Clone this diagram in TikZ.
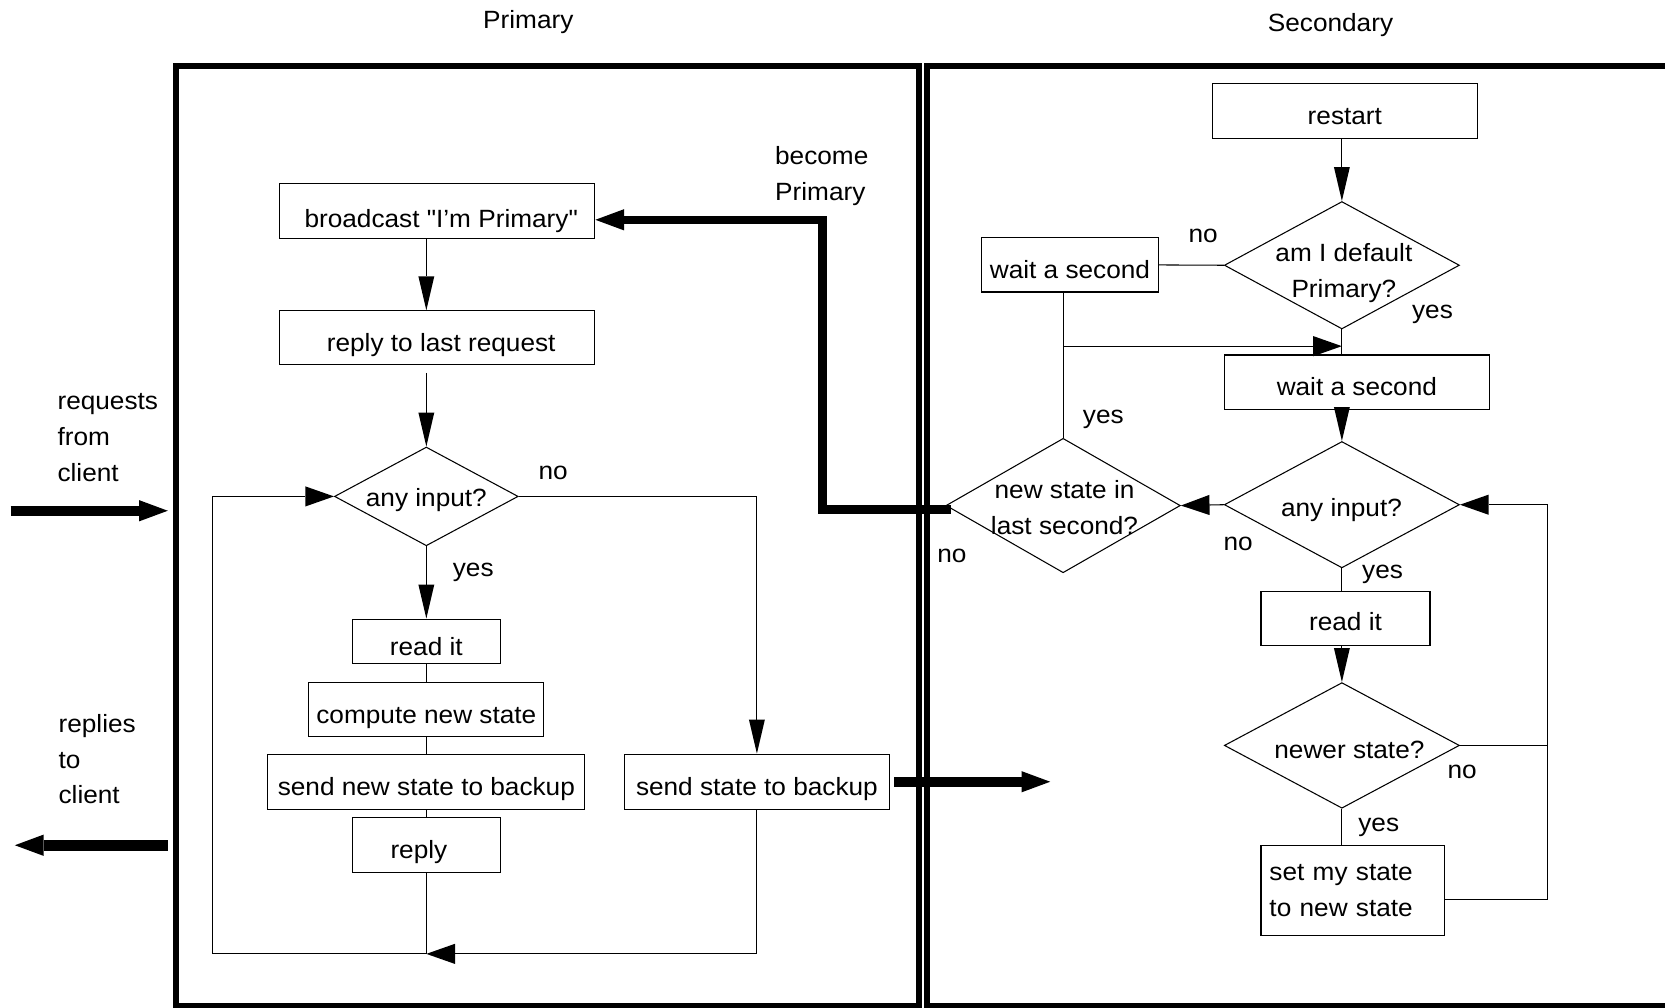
\documentclass[tikz,border=0pt]{standalone}
\usepackage{fontspec}
\setmainfont{Liberation Sans}[FakeStretch=1.05, Ligatures=TeXOff]
\usetikzlibrary{arrows.meta,shapes.geometric,calc}
\begin{document}
\begin{tikzpicture}[x=1pt,y=-1pt,
  every node/.style={font=\fontsize{23.5}{33.5}\selectfont, inner sep=0pt},
  line/.style={line width=1pt, black},
  box/.style={draw, line width=1pt, rectangle, inner sep=0pt},
  boxtxt/.style={box, text height=31pt, text depth=5pt},
  dia/.style={draw, line width=1pt, diamond, inner sep=0pt},
  lbl/.style={anchor=base},
  varrow/.style={line, -{Triangle[length=32pt,width=15pt,line width=0pt]}},
  harrow/.style={line, -{Triangle[length=27pt,width=19pt,line width=0pt]}},
  bigarrow/.style={line width=9pt, line join=miter, -{Triangle[length=27pt,width=20pt,line width=0pt]}},
  frame/.style={line width=5.6pt, line join=miter}
]
\useasboundingbox (0,0) rectangle (1568,949);
\clip (0,0) rectangle (1568,949);

% ---------- frames and titles ----------
\draw[frame] (165.7,62.2) rectangle (865.3,947.5);
\draw[frame] (872.6,62.2) rectangle (1620,947.5);
\node[lbl] (tprim) at (497.5,27) {Primary};
\node[lbl] (tsec) at (1253,29.5) {Secondary};

% ---------- client side (multi-line labels are anchored on their last line) ----------
\node[lbl, align=left, anchor=base west] (req) at (54,453) {requests\\from\\client};
\node[lbl, align=left, anchor=base west] (rep) at (55,757) {replies\\to\\client};
\coordinate (rq0) at (10,481);
\coordinate (rq1) at (158,481);
\draw[bigarrow] (rq0) -- (rq1);
\coordinate (rp0) at (158,796);
\coordinate (rp1) at (14,796);
\draw[bigarrow, line width=10pt] (rp0) -- (rp1);

% ---------- primary ----------
\node[boxtxt, text height=37pt, minimum width=297.4pt, minimum height=51.8pt] (bc) at (411.5,198.5) {\hspace*{8pt}broadcast "I’m Primary"};
\node[boxtxt, minimum width=297.4pt, minimum height=51pt] (rl) at (411.5,318.2) {\hspace*{8pt}reply to last request};
\node[dia, minimum width=173pt, minimum height=93pt] (q1) at (401.5,467.5) {};
\node[lbl] (q1t) at (401.5,477) {any input?};
\node[boxtxt, minimum width=139pt, minimum height=42pt] (ri) at (401.5,604) {read it};
\node[boxtxt, minimum width=221.5pt, minimum height=51pt] (cn) at (401.5,668.1) {compute new state};
\node[boxtxt, minimum width=298.4pt, minimum height=52pt] (sn) at (401.5,736.2) {send new state to backup};
\node[boxtxt, minimum width=139pt, minimum height=51.5pt] (rp) at (401.5,795.8) {reply\hspace*{14pt}};
\node[boxtxt, minimum width=249.5pt, minimum height=52pt] (ss) at (712.8,736.2) {send state to backup};

\draw[varrow] (bc.south -| q1.north) -- (rl.north -| q1.north);
\draw[varrow] ($(rl.south -| q1.north)+(0,7)$) -- (q1.north);
\draw[varrow] (q1.south) -- (ri.north);
\draw[line] (ri.south) -- (cn.north);
\draw[line] (cn.south) -- (sn.north);
\draw[line] (sn.south) -- (rp.north);
\draw[varrow] (q1.east) -| (ss.north);
\coordinate (pb) at (401.5,898.3);
\coordinate (pl) at (200.4,898.3);
\draw[line] (rp.south) -- (pb);
\draw[harrow] (ss.south) |- (pb);
\draw[harrow] (pb) -- (pl) |- (q1.west);
\node[lbl] (no1) at (521,452) {no};
\node[lbl] (yes1) at (445.7,542.7) {yes};

% ---------- secondary ----------
\node[boxtxt, minimum width=249pt, minimum height=51pt] (rs) at (1266.5,104.5) {restart};
\node[dia, minimum width=221.4pt, minimum height=120pt] (q2) at (1263.7,249.8) {};
\node[lbl, align=center] (q2t) at (1265.6,279.8) {am I default\\Primary?};
\node[boxtxt, minimum width=166.7pt, minimum height=51pt] (wl) at (1007.6,249.5) {wait a second};
\node[boxtxt, minimum width=249.5pt, minimum height=51pt] (wr) at (1277.8,359.8) {wait a second};
\node[dia, minimum width=221.4pt, minimum height=119pt] (q4) at (1263.7,475.3) {};
\node[lbl] (q4t) at (1263.3,486.6) {any input?};
\node[dia, minimum width=220.7pt, minimum height=126.6pt] (q3) at (1001.2,476.1) {};
\node[lbl, align=center] (q3t) at (1002.5,503) {new state in\\last second?};
\node[boxtxt, text height=29pt, text depth=7pt, minimum width=159.2pt, minimum height=50.8pt] (r2) at (1267.1,582.6) {read it};
\node[dia, minimum width=221.4pt, minimum height=118.3pt] (q5) at (1263.7,702) {};
\node[lbl] (q5t) at (1270.8,714.1) {newer state?};
\node[box, minimum height=84.7pt, text width=157.2pt, inner xsep=8pt, align=left] (st) at (1274.1,838.8) {set my state\\to new state};

\draw[varrow] (rs.south -| q2.north) -- (q2.north);
\draw[line] (q2.west) -- (wl.east);
\draw[line] (wl.south -| q3.north) -- (q3.north);
\coordinate (mj) at (1263.7,326);
\draw[harrow] (q3.north |- mj) -- (mj);
\draw[line] (q2.south) -- (wr.north -| q2.south);
\draw[varrow] (wr.south -| q4.north) -- (q4.north);
\draw[harrow] (q4.west) -- (q3.east);
\draw[line] (q4.south) -- (r2.north -| q4.south);
\draw[varrow] (r2.south -| q5.north) -- (q5.north);
\draw[line] (q5.south) -- (st.north -| q5.south);
\coordinate (sx) at (1457.1,846.9);
\draw[harrow] (st.east |- sx) -- (sx) |- (q4.east);
\draw[line] (q5.east) -- (q5.east -| sx);

\node[lbl] (no2) at (1133,228.2) {no};
\node[lbl] (yes2) at (1349,299.8) {yes};
\node[lbl] (yes3) at (1039,399) {yes};
\node[lbl] (no3) at (896.5,529.5) {no};
\node[lbl] (no4) at (1166,518) {no};
\node[lbl] (yes4) at (1302,544.5) {yes};
\node[lbl] (no5) at (1377,733) {no};
\node[lbl] (yes5) at (1298.4,782.6) {yes};

% ---------- cross-frame signals ----------
\coordinate (bp) at (774.8,207);
\draw[bigarrow, line width=8pt] ($(q3.west)+(5,3.5)$) -| (bp) -- (bp -| bc.east);
\node[lbl, align=left, anchor=base west] (bcm) at (729.8,188.8) {become\\Primary};
\coordinate (ssend) at (989,736.2);
\draw[bigarrow] ($(ss.east)+(4,0)$) -- (ssend);
\end{tikzpicture}
\end{document}
